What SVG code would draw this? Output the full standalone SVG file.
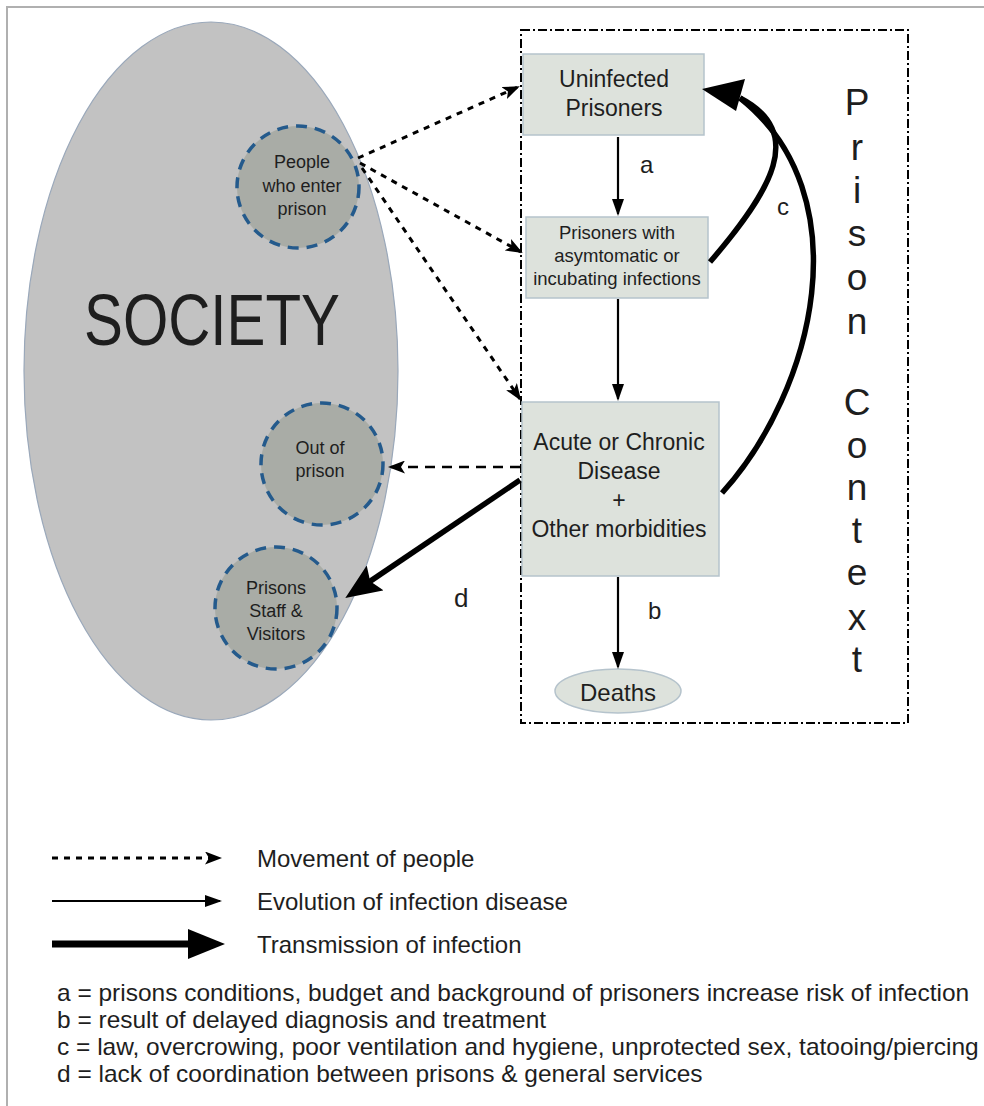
<svg xmlns="http://www.w3.org/2000/svg" width="984" height="1106" viewBox="0 0 984 1106">
<defs>
<style>
text{font-family:"Liberation Sans",Arial,sans-serif;fill:#1e1e1e}
.box{fill:#dde2dc;stroke:#b5c3cc;stroke-width:1.5}
.circ{fill:#a9aca6;stroke:#245a8c;stroke-width:3.5;stroke-dasharray:11,8}
.t23{font-size:23px;text-anchor:middle}
.t18{font-size:18.5px;text-anchor:middle}
.tc{font-size:18px;text-anchor:middle}
.lbl{font-size:24px}
.pc{font-size:37px;text-anchor:middle}
.thin{fill:none;stroke:#000;stroke-width:2.2}
.dot{fill:none;stroke:#000;stroke-width:3;stroke-dasharray:6,6}
.dash{fill:none;stroke:#000;stroke-width:2.5;stroke-dasharray:10,7}
.thick{fill:none;stroke:#000;stroke-width:5.5}
.leg{font-size:24px}
.note{font-size:24px}
</style>
<marker id="hThin" viewBox="0 0 17 12" refX="15" refY="6" markerWidth="17" markerHeight="12" orient="auto" markerUnits="userSpaceOnUse"><path d="M0,0 L17,6 L0,12 z" fill="#000"/></marker>
<marker id="hDot" viewBox="0 0 17 13" refX="15" refY="6.5" markerWidth="17" markerHeight="13" orient="auto" markerUnits="userSpaceOnUse"><path d="M0,0 L17,6.5 L0,13 L4,6.5 z" fill="#000"/></marker>
<marker id="hThick" viewBox="0 0 36 30" refX="8" refY="15" markerWidth="36" markerHeight="30" orient="auto" markerUnits="userSpaceOnUse"><path d="M0,0 L36,15 L0,30 L6,15 z" fill="#000"/></marker>
</defs>
<rect width="984" height="1106" fill="#fff"/>
<path d="M7,1106 L7,7 L984,7" fill="none" stroke="#b0b0b0" stroke-width="2"/>

<g id="society">
<ellipse cx="211" cy="371" rx="187" ry="349" fill="#c2c2c2" stroke="#9aa8ba" stroke-width="1.2"/>
<text x="84" y="345" font-size="72" textLength="256" lengthAdjust="spacingAndGlyphs">SOCIETY</text>
</g>

<g id="prison-context">
<rect x="521" y="30" width="387" height="693" fill="none" stroke="#000" stroke-width="2" stroke-dasharray="9,3,2,3"/>
<text class="pc" x="857" y="115">P</text>
<text class="pc" x="857" y="160">r</text>
<text class="pc" x="857" y="203">i</text>
<text class="pc" x="857" y="246">s</text>
<text class="pc" x="857" y="290">o</text>
<text class="pc" x="857" y="334">n</text>
<text class="pc" x="857" y="415">C</text>
<text class="pc" x="857" y="458">o</text>
<text class="pc" x="857" y="500">n</text>
<text class="pc" x="857" y="543">t</text>
<text class="pc" x="857" y="585">e</text>
<text class="pc" x="857" y="630">x</text>
<text class="pc" x="857" y="672">t</text>
</g>

<g id="people-enter">
<circle class="circ" cx="298" cy="187" r="61"/>
<text class="tc" x="302" y="168">People</text>
<text class="tc" x="302" y="192">who enter</text>
<text class="tc" x="302" y="215">prison</text>
</g>

<g id="out-of-prison">
<circle class="circ" cx="322" cy="464" r="61"/>
<text class="tc" x="320" y="454">Out of</text>
<text class="tc" x="320" y="477">prison</text>
</g>

<g id="staff-visitors">
<circle class="circ" cx="276" cy="608" r="61"/>
<text class="tc" x="276" y="594">Prisons</text>
<text class="tc" x="276" y="617">Staff &amp;</text>
<text class="tc" x="276" y="640">Visitors</text>
</g>

<g id="uninfected">
<rect class="box" x="523" y="54" width="181" height="81"/>
<text class="t23" x="614" y="87">Uninfected</text>
<text class="t23" x="614" y="116">Prisoners</text>
</g>

<g id="asymptomatic">
<rect class="box" x="526" y="217" width="182" height="81"/>
<text class="t18" x="617" y="239">Prisoners with</text>
<text class="t18" x="617" y="262">asymtomatic or</text>
<text class="t18" x="617" y="285">incubating infections</text>
</g>

<g id="acute">
<rect class="box" x="522" y="402" width="197" height="174"/>
<text class="t23" x="619" y="450">Acute or Chronic</text>
<text class="t23" x="619" y="479">Disease</text>
<text class="t23" x="619" y="508">+</text>
<text class="t23" x="619" y="537">Other morbidities</text>
</g>

<g id="deaths">
<ellipse cx="618" cy="691" rx="63" ry="22" fill="#dde2dc" stroke="#b5c3cc" stroke-width="1.5"/>
<text x="618" y="701" font-size="24" text-anchor="middle">Deaths</text>
</g>

<g id="connectors">
<path class="dot" d="M358,158 L518,87" marker-end="url(#hDot)"/>
<path class="dot" d="M360,163 L521,252" marker-end="url(#hDot)"/>
<path class="dot" d="M362,168 L520,399" marker-end="url(#hDot)"/>
<path class="thin" d="M618,137 L618,214" marker-end="url(#hThin)"/>
<path class="thin" d="M618,299 L618,399" marker-end="url(#hThin)"/>
<path class="thin" d="M618,577 L618,667" marker-end="url(#hThin)"/>
<path class="dash" d="M520,467 L390,467" marker-end="url(#hDot)"/>
<path class="thick" d="M520,480 L368.5,582.4" marker-end="url(#hThick)"/>
<path class="thick" d="M710,262 C772,190 806,132 740,98"/>
<path class="thick" d="M722,493 C815,390 862,195 740,98"/>
<polygon points="702,89 745,79 736,111" fill="#000"/>
<text class="lbl" x="640" y="173">a</text>
<text class="lbl" x="648" y="619">b</text>
<text class="lbl" x="777" y="215">c</text>
<text x="454" y="607" font-size="26">d</text>
</g>

<g id="legend">
<path class="dot" d="M52,858 L220,858" stroke-dasharray="8,8" marker-end="url(#hDot)"/>
<path class="thin" d="M52,901 L220,901" stroke-width="2.5" marker-end="url(#hThin)"/>
<path d="M52,944 L192,944" stroke="#000" stroke-width="7"/>
<polygon points="188,929 225,944 188,959" fill="#000"/>
<text class="leg" x="257" y="867">Movement of people</text>
<text class="leg" x="257" y="910">Evolution of infection disease</text>
<text class="leg" x="257" y="953">Transmission of infection</text>
</g>

<g id="notes" transform="translate(57,0) scale(1.02,1)">
<text class="note" x="0" y="1001">a = prisons conditions, budget and background of prisoners increase risk of infection</text>
<text class="note" x="0" y="1028">b = result of delayed diagnosis and treatment</text>
<text class="note" x="0" y="1055">c = law, overcrowing, poor ventilation and hygiene, unprotected sex, tatooing/piercing</text>
<text class="note" x="0" y="1082">d = lack of coordination between prisons &amp; general services</text>
</g>
</svg>
